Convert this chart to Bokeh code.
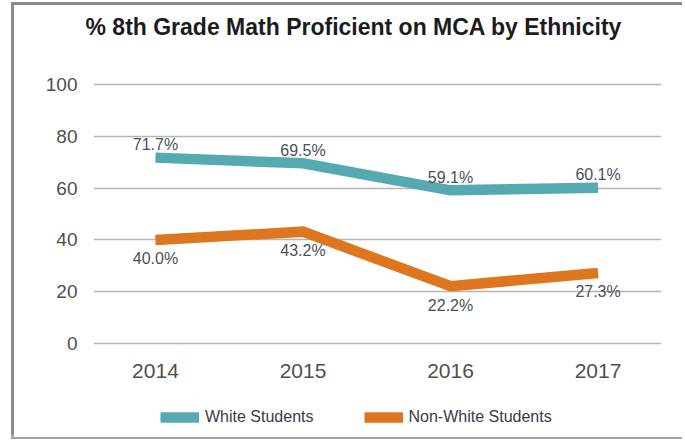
from bokeh.plotting import figure
from bokeh.layouts import column
from bokeh.models import Range1d, FixedTicker, Legend, LegendItem, ColumnDataSource
from bokeh.embed import file_html
from bokeh.resources import INLINE
from bokeh.core.properties import value

# ---- data ----
years = [2014, 2015, 2016, 2017]
year_labels = ["2014", "2015", "2016", "2017"]
white = [71.7, 69.5, 59.1, 60.1]
nonwhite = [40.0, 43.2, 22.2, 27.3]
y_ticks = [0, 20, 40, 60, 80, 100]
series_names = ["White Students", "Non-White Students"]
chart_title = "% 8th Grade Math Proficient on MCA by Ethnicity"

TEAL = "#55aab1"
ORANGE = "#de7620"
FONT = "Liberation Sans"
W = 671


def bare(fig):
    fig.outline_line_color = None
    fig.background_fill_color = "white"
    fig.border_fill_color = "white"
    fig.grid.visible = False
    return fig


# ---- title strip ----
pt = bare(figure(width=W, height=50, output_backend="svg", toolbar_location=None,
                 x_axis_location=None, y_axis_location=None,
                 x_range=Range1d(0, 1), y_range=Range1d(0, 1),
                 min_border_left=79, min_border_right=24, min_border_top=0,
                 min_border_bottom=0, title=chart_title))
pt.title.align = "left"
pt.title.offset = -8
pt.title.text_font = FONT
pt.title.text_font_size = "23px"
pt.title.text_font_style = "bold"
pt.title.text_color = "#1c1c1c"
pt.title.standoff = 13

# ---- main chart ----
p = bare(figure(width=W, height=340, output_backend="svg", toolbar_location=None,
                x_range=Range1d(2013.58, 2017.43), y_range=Range1d(-1, 101),
                min_border_left=79, min_border_right=24, min_border_top=26,
                min_border_bottom=49))

for ax in (p.xaxis[0], p.yaxis[0]):
    ax.axis_line_color = None
    ax.major_tick_line_color = None
    ax.minor_tick_line_color = None
    ax.major_tick_in = 0
    ax.major_tick_out = 0
    ax.minor_tick_in = 0
    ax.minor_tick_out = 0
    ax.major_label_text_font = FONT
    ax.major_label_text_color = "#4f4f4f"

p.xaxis.major_label_text_font_size = "21px"
p.yaxis.major_label_text_font_size = "19px"
p.xaxis.ticker = FixedTicker(ticks=years)
p.xaxis.major_label_overrides = {y: l for y, l in zip(years, year_labels)}
p.xaxis.major_label_standoff = 17
p.yaxis.ticker = FixedTicker(ticks=y_ticks)
p.yaxis.major_label_standoff = 16

p.ygrid.visible = True
p.ygrid.grid_line_color = "#b5b5b5"
p.ygrid.grid_line_width = 1.3

src = ColumnDataSource(dict(
    x=years, white=white, nonwhite=nonwhite,
    wl=[f"{v:.1f}%" for v in white], nl=[f"{v:.1f}%" for v in nonwhite]))

line_kw = dict(line_width=10.5, line_join="miter", line_cap="butt")
p.line("x", "white", source=src, line_color=TEAL, **line_kw)
p.line("x", "nonwhite", source=src, line_color=ORANGE, **line_kw)

p.text("x", "white", text="wl", source=src, text_align="center",
       text_baseline="middle", y_offset=-13, text_font=value(FONT),
       text_font_size="16px", text_color="#4a505c")
p.text("x", "nonwhite", text="nl", source=src, text_align="center",
       text_baseline="middle", y_offset=19, text_font=value(FONT),
       text_font_size="16px", text_color="#4a505c")

# ---- legend strip ----
pl = bare(figure(width=W, height=42, output_backend="svg", toolbar_location=None,
                 x_axis_location=None, y_axis_location=None,
                 x_range=Range1d(0, 1), y_range=Range1d(0, 1),
                 min_border_left=79, min_border_right=24, min_border_top=0,
                 min_border_bottom=0))
l1 = pl.line("x", "white", source=src, line_color=TEAL, **line_kw)
l2 = pl.line("x", "nonwhite", source=src, line_color=ORANGE, **line_kw)
legend = Legend(items=[LegendItem(label=series_names[0], renderers=[l1]),
                       LegendItem(label=series_names[1], renderers=[l2])],
                orientation="horizontal", location=(67, 11),
                glyph_width=39, glyph_height=12, label_standoff=6, spacing=50,
                label_text_font=FONT, label_text_font_size="16px",
                label_text_color="#3a3a48", border_line_color=None,
                background_fill_alpha=0, padding=0, margin=0)
pl.add_layout(legend, "center")

layout = column(pt, p, pl, spacing=0)
layout.styles = {"position": "relative", "left": "14px", "top": "5px",
                 "box-shadow": "-3px -3px 0 0 #8a8a8a, -3px 2px 0 0 #a3a3a3"}

open("out.html", "w").write(file_html(layout, INLINE))
